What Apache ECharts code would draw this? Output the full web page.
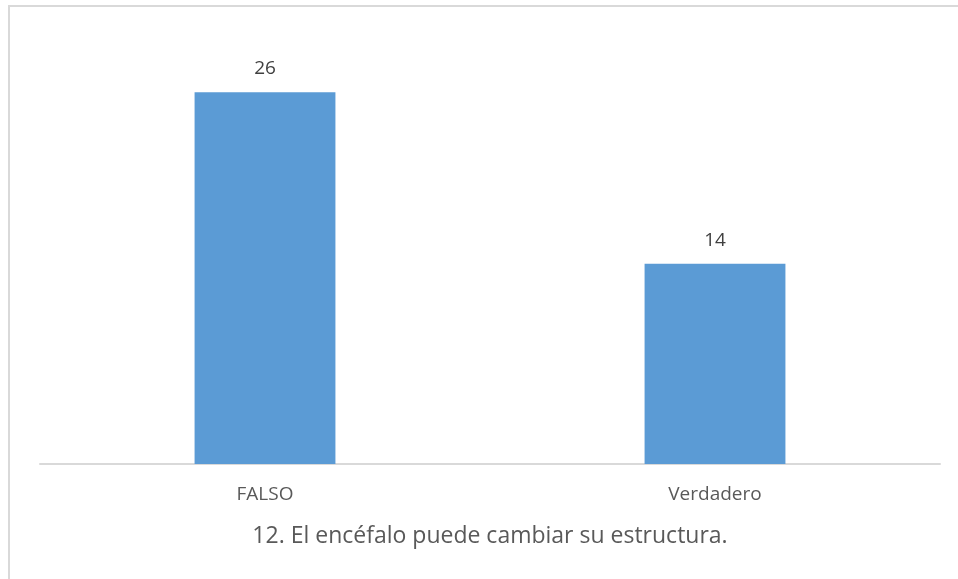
<!DOCTYPE html>
<html>
<head>
<meta charset="utf-8">
<script src="https://cdn.jsdelivr.net/npm/echarts@6/dist/echarts.min.js"></script>
<style>
  html, body { margin: 0; padding: 0; background: #fff; }
  #chart { width: 958px; height: 579px; }
</style>
</head>
<body>
<div id="chart"></div>
<script>
var categories = ["FALSO", "Verdadero"];
var counts = [26, 14];
var chartTitle = "12. El encéfalo puede cambiar su estructura.";

var myChart = echarts.init(document.getElementById("chart"));
var option = {
  animation: false,
  textStyle: { fontFamily: "Open Sans, Liberation Sans, sans-serif" },
  // marco del gráfico (solo se ven los bordes izquierdo y superior)
  graphic: [
    {
      type: "rect",
      shape: { x: 9, y: 6, width: 1000, height: 620 },
      style: { fill: "none", stroke: "#d9d9d9", lineWidth: 2 },
      silent: true
    }
  ],
  title: {
    text: chartTitle,
    left: 485,
    textAlign: "center",
    top: 520,
    textStyle: { color: "#595959", fontSize: 23, fontWeight: "normal" }
  },
  grid: { left: 40, right: 18, top: 35, bottom: 115 },
  xAxis: {
    type: "category",
    data: categories,
    axisTick: { show: false },
    axisLine: { lineStyle: { color: "#d9d9d9", width: 2 } },
    axisLabel: { color: "#595959", fontSize: 19, margin: 21 }
  },
  yAxis: {
    type: "value",
    min: 0,
    max: 30,
    show: false,
    splitLine: { show: false }
  },
  series: [
    {
      type: "bar",
      data: counts,
      barWidth: "31.3%",
      itemStyle: { color: "#5b9bd5" },
      label: {
        show: true,
        position: "top",
        distance: 14,
        color: "#404040",
        fontSize: 19
      }
    }
  ]
};
myChart.setOption(option);
</script>
</body>
</html>
